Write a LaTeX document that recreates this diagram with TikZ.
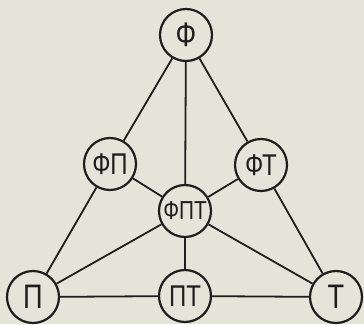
\documentclass[tikz,border=0pt]{standalone}
\usepackage{fontspec}
\setmainfont{Liberation Sans}
\newfontfamily\labelfont[FakeStretch=0.8]{Liberation Sans}
\definecolor{paper}{RGB}{229,228,216}
\definecolor{ink}{RGB}{30,30,28}
\begin{document}
\begin{tikzpicture}[x=1pt,y=-1pt,
  vtx/.style={circle,draw=ink,line width=2.2pt,fill=paper,minimum size=52pt,inner sep=0pt,text=ink},
  big/.style={font=\labelfont\fontsize{34}{34}\selectfont},
  mid/.style={font=\labelfont\fontsize{30}{30}\selectfont},
  small/.style={font=\labelfont\fontsize{26}{26}\selectfont},
  link/.style={draw=ink,line width=1.8pt}]
  % paper background
  \fill[paper] (0,0) rectangle (364,324);
  \useasboundingbox (0,0) rectangle (364,324);
  % nodes
  \node[vtx,big] (F)   at (186,35)  {Ф};
  \node[vtx,mid] (FP)  at (110,164) {ФП};
  \node[vtx,mid] (FT)  at (261,165) {ФТ};
  \node[vtx,small] (FPT) at (185,211) {ФПТ};
  \node[vtx,big] (P)   at (33,297)  {П};
  \node[vtx,mid] (PT)  at (185,296) {ПТ};
  \node[vtx,big] (T)   at (336,297) {Т};
  % connectors
  \draw[link] (F) -- (FP);
  \draw[link] (F) -- (FPT);
  \draw[link] (F) -- (FT);
  \draw[link] (FP) -- (P);
  \draw[link] (FP) -- (FPT);
  \draw[link] (FT) -- (FPT);
  \draw[link] (FT) -- (T);
  \draw[link] (FPT) -- (P);
  \draw[link] (FPT) -- (PT);
  \draw[link] (FPT) -- (T);
  \draw[link] (P) -- (PT);
  \draw[link] (PT) -- (T);
\end{tikzpicture}
\end{document}
